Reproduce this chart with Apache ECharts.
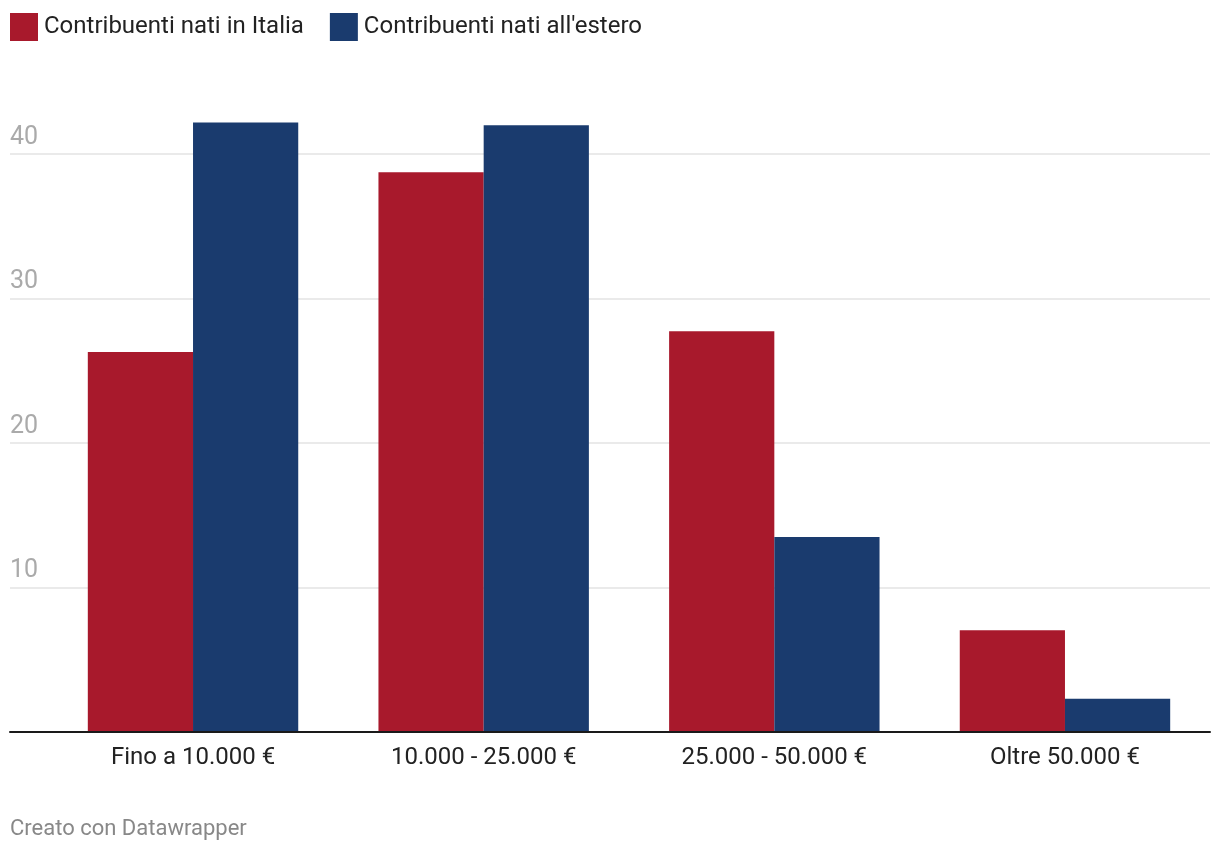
<!DOCTYPE html>
<html>
<head>
<meta charset="utf-8">
<script src="https://cdn.jsdelivr.net/npm/echarts@6/dist/echarts.min.js"></script>
<style>
html,body{margin:0;padding:0;background:#fff;}
#chart{width:1220px;height:854px;}
</style>
</head>
<body>
<div id="chart"></div>
<script>
const categories = ['Fino a 10.000 €', '10.000 - 25.000 €', '25.000 - 50.000 €', 'Oltre 50.000 €'];
const seriesNames = ['Contribuenti nati in Italia', "Contribuenti nati all'estero"];
const italia = [26.3, 38.75, 27.75, 7.05];
const estero = [42.2, 42.0, 13.5, 2.3];
const yTicks = [0, 10, 20, 30, 40];

const FONT = 'Roboto, "Noto Sans", sans-serif';
const chart = echarts.init(document.getElementById('chart'), null, {renderer: 'canvas'});
chart.setOption({
  animation: false,
  backgroundColor: '#fff',
  textStyle: {fontFamily: FONT},
  legend: {
    left: 10, top: 13, padding: 0,
    itemWidth: 28, itemHeight: 28, itemGap: 26,
    icon: 'rect',
    textStyle: {fontSize: 24, color: '#222', fontFamily: FONT, padding: [2, 0, 0, 1]},
    data: seriesNames
  },
  grid: [
    {left: 47.7, right: 9.7, top: 82, bottom: 122},
    {left: 10, right: 10, top: 154, bottom: 122}
  ],
  xAxis: [
    {
      gridIndex: 0, type: 'category', data: categories,
      axisLine: {show: false}, axisTick: {show: false},
      axisLabel: {fontSize: 24, color: '#222', margin: 14, fontFamily: FONT}
    },
    {
      gridIndex: 1, type: 'category', data: [''], z: 10,
      axisLine: {show: true, lineStyle: {color: '#1a1a1a', width: 2}},
      axisTick: {show: false}, axisLabel: {show: false}
    }
  ],
  yAxis: [
    {
      gridIndex: 0, type: 'value', min: 0, max: 45, show: false,
      splitLine: {show: false}
    },
    {
      gridIndex: 1, type: 'value', min: yTicks[0], max: yTicks[yTicks.length - 1], interval: 10,
      axisLine: {show: false}, axisTick: {show: false},
      splitLine: {show: true, lineStyle: {color: '#e3e3e3', width: 1.5}},
      axisLabel: {
        inside: true, margin: 0, verticalAlign: 'bottom', padding: [0, 0, 4, 0],
        fontSize: 25, color: '#aaaaaa', fontFamily: FONT,
        formatter: v => (v === 0 ? '' : String(v))
      }
    }
  ],
  series: [
    {
      name: seriesNames[0], type: 'bar', xAxisIndex: 0, yAxisIndex: 0,
      data: italia, itemStyle: {color: '#a8192c'},
      barGap: '0%', barCategoryGap: '27.6%'
    },
    {
      name: seriesNames[1], type: 'bar', xAxisIndex: 0, yAxisIndex: 0,
      data: estero, itemStyle: {color: '#1a3b6e'},
      barGap: '0%', barCategoryGap: '27.6%'
    }
  ],
  graphic: [
    {
      type: 'text', left: 10, top: 818,
      style: {text: 'Creato con Datawrapper', fontSize: 22, fill: '#888', fontFamily: FONT}
    }
  ]
});
</script>
</body>
</html>
